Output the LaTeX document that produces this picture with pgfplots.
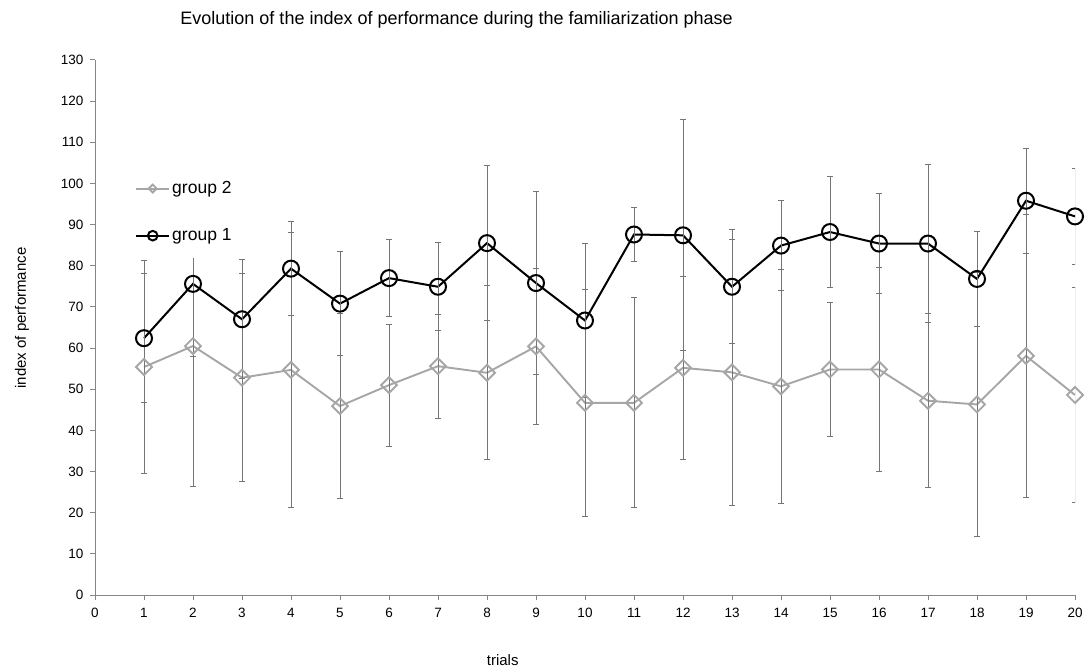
\documentclass[border=0pt]{standalone}
\usepackage{fontspec}
\setmainfont{Liberation Sans}
\usepackage{pgfplots}
\usepackage{pgfplotstable}
\pgfplotsset{compat=1.18}
\definecolor{gtwo}{HTML}{A6A6A6}
\definecolor{ebar}{HTML}{757575}
\definecolor{axc}{HTML}{868686}

\pgfplotstableread{
x  y     e
1  62.4  15.6
2  75.6  17.7
3  67.0  14.5
4  79.3  11.5
5  70.8  12.7
6  77.0  9.4
7  74.9  10.7
8  85.5  18.8
9  75.8  22.2
10 66.7  18.8
11 87.6  6.5
12 87.4  28.1
13 74.9  13.9
14 84.9  11.0
15 88.2  13.6
16 85.4  12.1
17 85.4  19.1
18 76.8  11.6
19 95.8  12.8
20 92.0  11.6
}\groupone

\pgfplotstableread{
x  y     e
1  55.4  25.9
2  60.5  34.1
3  52.8  25.2
4  54.7  33.5
5  45.9  22.4
6  51.0  14.8
7  55.6  12.6
8  54.0  21.1
9  60.4  19.0
10 46.7  27.6
11 46.7  25.5
12 55.2  22.3
13 54.1  32.4
14 50.7  28.4
15 54.8  16.2
16 54.8  24.8
17 47.2  21.2
18 46.3  32.1
19 58.1  34.4
20 48.6  26.2
}\grouptwo

\begin{document}
\begin{tikzpicture}
\path[use as bounding box] (0,0) rectangle (1086pt,669pt);
\begin{axis}[
  at={(95pt,74pt)}, anchor=south west,
  scale only axis, width=980pt, height=535pt,
  xmin=0, xmax=20, ymin=0, ymax=130,
  xtick={0,1,...,20}, ytick={0,10,...,130},
  axis x line=bottom, axis y line=left,
  axis line style={-, draw=axc, line width=1pt},
  tick align=outside, major tick length=5pt,
  tick style={draw=axc, line width=1pt},
  ticklabel style={font=\fontsize{13.5}{15}\selectfont, text=black},
  /pgf/number format/assume math mode=true,
  yticklabel style={xshift=-3pt},
  xticklabel style={yshift=-5pt},
  title={Evolution of the index of performance during the familiarization phase},
  title style={at={(axis description cs:0.369,1.0636)}, anchor=center, font=\fontsize{18}{21}\selectfont},
  xlabel={trials},
  xlabel style={at={(axis description cs:0.416,-0.1215)}, anchor=center, font=\fontsize{15}{18}\selectfont},
  ylabel={index of performance},
  ylabel style={at={(axis description cs:-0.0745,0.5178)}, anchor=center, font=\fontsize{15}{18}\selectfont},
  legend style={draw=none, fill=white, at={(axis description cs:0.0378,0.8028)}, anchor=north west,
    inner xsep=3pt, inner ysep=14pt, row sep=29.5pt, font=\fontsize{17.5}{20}\selectfont, nodes={inner sep=2pt}},
  legend cell align=left,
  legend image code/.code={\draw[mark repeat=2, mark phase=2] plot coordinates {(0pt,0pt) (16.5pt,0pt) (33pt,0pt)};},
]
\addplot[color=gtwo, line width=1.9pt, mark=square, mark size=5.6pt,
  mark options={solid, rotate=45, line width=1.9pt, draw=gtwo, fill=none},
  legend image post style={mark size=2.8pt},
  error bars/.cd, y dir=both, y explicit,
  error bar style={line width=1pt, color=ebar},
  error mark options={rotate=90, mark size=3pt, line width=1pt, color=ebar}]
  table[x=x, y=y, y error=e] {\grouptwo};
\addlegendentry{group 2}
\addplot[color=black, line width=2pt, mark=o, mark size=8pt,
  mark options={solid, line width=2pt, draw=black, fill=none},
  legend image post style={mark size=4.8pt},
  error bars/.cd, y dir=both, y explicit,
  error bar style={line width=1pt, color=ebar},
  error mark options={rotate=90, mark size=3pt, line width=1pt, color=ebar}]
  table[x=x, y=y, y error=e] {\groupone};
\addlegendentry{group 1}
\end{axis}
\end{tikzpicture}
\end{document}
